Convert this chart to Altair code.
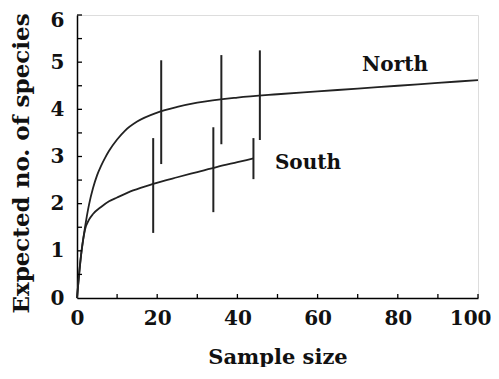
import altair as alt
import pandas as pd

north_x = [0, 1, 2, 3, 4, 5, 6, 7, 8, 10, 12, 15, 20, 25, 30, 40, 50, 60, 70, 80, 90, 100]
north_y = [0, 0.9, 1.5, 1.98, 2.33, 2.6, 2.8, 2.97, 3.12, 3.36, 3.55, 3.74, 3.93, 4.05, 4.14, 4.25, 4.32, 4.38, 4.44, 4.5, 4.56, 4.62]
south_x = [0, 1, 2, 3, 4, 6, 8, 10, 14, 19, 25, 30, 35, 40, 44]
south_y = [0, 0.9, 1.45, 1.66, 1.78, 1.93, 2.05, 2.13, 2.28, 2.42, 2.56, 2.67, 2.78, 2.88, 2.96]

bar_series = ["North", "North", "North", "South", "South", "South"]
bar_x = [21, 36, 45.6, 19, 34, 44]
bar_low = [2.84, 3.26, 3.35, 1.38, 1.82, 2.52]
bar_high = [5.04, 5.15, 5.25, 3.39, 3.62, 3.39]

label_text = ["North", "South"]
label_x = [79.3, 57.6]
label_y = [4.94, 2.86]

y_ticks = [0.5, 1, 1.5, 2, 2.5, 3, 3.5, 4, 4.5, 5, 5.5, 6]
x_ticks = [10, 20, 30, 40, 50, 60, 70, 80, 90, 100]

FONT = "DejaVu Serif"

curves = pd.DataFrame(
    [{"series": "North", "x": a, "y": b} for a, b in zip(north_x, north_y)]
    + [{"series": "South", "x": a, "y": b} for a, b in zip(south_x, south_y)]
)
bars = pd.DataFrame({"series": bar_series, "x": bar_x, "lo": bar_low, "hi": bar_high})
labels = pd.DataFrame({"t": label_text, "x": label_x, "y": label_y})
yt = pd.DataFrame({"v": y_ticks})
xt = pd.DataFrame({"v": x_ticks})

xscale = alt.Scale(domain=[0, 100], nice=False, zero=False)
yscale = alt.Scale(domain=[0, 6], nice=False, zero=False)

xaxis = alt.Axis(
    values=[0, 20, 40, 60, 80, 100], ticks=False, grid=False, domainColor="black",
    domainWidth=1.5, labelFont=FONT, labelFontSize=20, labelFontWeight="bold",
    labelColor="#111", labelPadding=10, labelFlush=False,
    labelAlign=alt.condition("datum.value == 100", alt.value("right"), alt.value("center")),
    labelOffset=alt.condition("datum.value == 100", alt.value(13), alt.value(0)),
    title="Sample size", titleFont=FONT,
    titleFontSize=21, titleFontWeight="bold", titleColor="#111", titlePadding=18,
)
yaxis = alt.Axis(
    values=[0, 1, 2, 3, 4, 5, 6], ticks=False, grid=False, domainColor="black",
    domainWidth=1.5, labelFont=FONT, labelFontSize=20, labelFontWeight="bold",
    labelColor="#111", labelPadding=13, labelFlush=False,
    labelOffset=alt.condition("datum.value == 6", alt.value(5), alt.value(0)),
    title="Expected no. of species", titleFont=FONT,
    titleFontSize=23, titleFontWeight="bold", titleColor="#111", titlePadding=17,
    titleY=148,
)

lines = alt.Chart(curves).mark_line(color="#222", strokeWidth=1.8, interpolate="monotone").encode(
    x=alt.X("x:Q", scale=xscale, axis=xaxis),
    y=alt.Y("y:Q", scale=yscale, axis=yaxis),
    detail="series:N",
)
err = alt.Chart(bars).mark_rule(color="#222", strokeWidth=2).encode(
    x=alt.X("x:Q", scale=xscale), y=alt.Y("lo:Q", scale=yscale), y2="hi:Q"
)
txt = alt.Chart(labels).mark_text(
    font=FONT, fontSize=20, fontWeight="bold", color="#111", align="center", baseline="middle"
).encode(x=alt.X("x:Q", scale=xscale), y=alt.Y("y:Q", scale=yscale), text="t:N")
ytk = alt.Chart(yt).mark_rule(color="black", strokeWidth=1.3).encode(
    y=alt.Y("v:Q", scale=yscale), x=alt.value(0), x2=alt.value(5)
)
xtk = alt.Chart(xt).mark_rule(color="black", strokeWidth=1.3).encode(
    x=alt.X("v:Q", scale=xscale), y=alt.value(283), y2=alt.value(279)
)

chart = alt.layer(lines, err, txt, ytk, xtk).properties(
    width=401, height=283,
    autosize=alt.AutoSizeParams(type="none"),
    padding={"left": 69, "top": 7, "right": 13, "bottom": 69},
).configure_view(stroke=None).configure(background="white")

chart.save("out.html", embed_options={"renderer": "svg", "actions": False})
